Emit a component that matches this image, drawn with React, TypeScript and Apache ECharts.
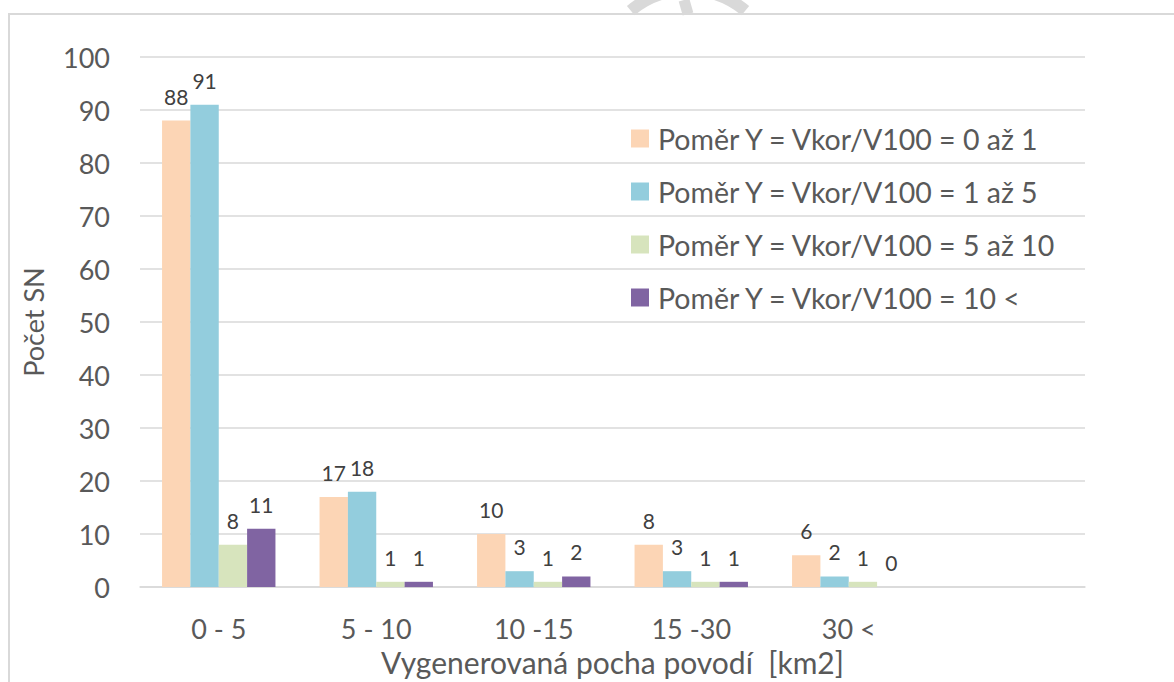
import React, { useEffect, useRef } from "react";
import * as echarts from "echarts";

const categories = ["0 - 5", "5 - 10", "10 -15", "15 -30", "30 <", ""];
const seriesNames = [
  "Poměr Y = Vkor/V100 = 0 až 1",
  "Poměr Y = Vkor/V100 = 1 až 5",
  "Poměr Y = Vkor/V100 = 5 až 10",
  "Poměr Y = Vkor/V100 = 10 <",
];
const ratio0to1 = [88, 17, 10, 8, 6, null];
const ratio1to5 = [91, 18, 3, 3, 2, null];
const ratio5to10 = [8, 1, 1, 1, 1, null];
const ratio10plus = [11, 1, 2, 1, 0, null];
const yTicks = { min: 0, max: 100, interval: 10 };
const colors = ["#FCD5B5", "#93CDDD", "#D7E4BD", "#8064A2"];

const FONT = "Lato";
const TEXT = "#595959";

export default function App() {
  const ref = useRef<HTMLDivElement>(null);
  useEffect(() => {
    if (!ref.current) return;
    const chart = echarts.init(ref.current, undefined, { renderer: "svg" });
    const data = [ratio0to1, ratio1to5, ratio5to10, ratio10plus];
    chart.setOption({
      animation: false,
      backgroundColor: "#ffffff",
      textStyle: { fontFamily: FONT },
      grid: { left: 140, right: 89, top: 57, bottom: 94 },
      legend: {
        orient: "vertical",
        left: 626,
        top: 119,
        itemWidth: 18,
        itemHeight: 18,
        itemGap: 24,
        icon: "rect",
        textStyle: { fontFamily: FONT, fontSize: 28.5, color: TEXT, padding: [0, 0, 0, 4] },
        data: seriesNames,
      },
      xAxis: {
        type: "category",
        data: categories,
        axisLine: { lineStyle: { color: "#D9D9D9", width: 1.5 } },
        axisTick: { show: false },
        axisLabel: { fontFamily: FONT, fontSize: 27, color: TEXT, margin: 28, interval: 0 },
        name: "Vygenerovaná pocha povodí  [km2]",
        nameLocation: "middle",
        nameGap: 59,
        nameTextStyle: { fontFamily: FONT, fontSize: 30, color: TEXT },
      },
      yAxis: {
        type: "value",
        min: yTicks.min,
        max: yTicks.max,
        interval: yTicks.interval,
        axisLine: { show: false },
        axisTick: { show: false },
        splitLine: { lineStyle: { color: "#D9D9D9", width: 1.5 } },
        axisLabel: { fontFamily: FONT, fontSize: 27, color: TEXT, margin: 30 },
        name: "Počet SN",
        nameLocation: "middle",
        nameGap: 93,
        nameRotate: 90,
        nameTextStyle: { fontFamily: FONT, fontSize: 27, color: TEXT },
      },
      series: seriesNames.map((name, i) => ({
        name,
        type: "bar",
        data: data[i],
        barGap: "0%",
        barCategoryGap: "28%",
        itemStyle: { color: colors[i] },
        label: {
          show: true,
          position: "top",
          distance: 14,
          fontFamily: FONT,
          fontSize: 21,
          color: "#404040",
        },
      })),
      graphic: [
        {
          type: "arc",
          shape: { cx: 688, cy: 80, r: 90, startAngle: -2.26, endAngle: -0.88 },
          style: { stroke: "#D9D9D9", lineWidth: 12, fill: null },
          silent: true,
        },
        {
          type: "line",
          shape: { x1: 684, y1: 0, x2: 688, y2: 14 },
          style: { stroke: "#D9D9D9", lineWidth: 11 },
          silent: true,
        },
        {
          type: "rect",
          shape: { x: 9, y: 15, width: 1300, height: 800 },
          style: { fill: "#ffffff" },
          silent: true,
          z: -10,
        },
        {
          type: "rect",
          shape: { x: 9, y: 14, width: 1300, height: 800 },
          style: { stroke: "#D9D9D9", lineWidth: 2, fill: null },
          silent: true,
        },
      ],
    });
    return () => chart.dispose();
  }, []);
  return (
    <div
      ref={ref}
      style={{ position: "fixed", left: 0, top: 0, width: 1174, height: 682, background: "#fff" }}
    />
  );
}
